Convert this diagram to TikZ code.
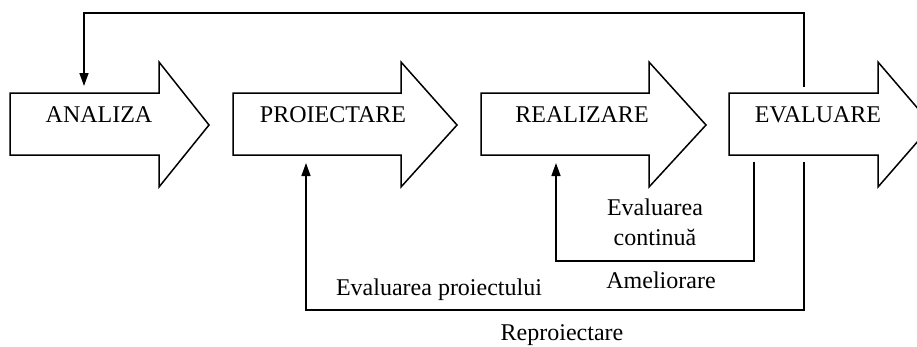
\documentclass[tikz,border=0pt]{standalone}
\usepackage{fontspec}
\setmainfont{Liberation Serif}
\usetikzlibrary{arrows.meta}

\tikzset{
	stage/.style={draw=black, line width=1.5bp, fill=white, line join=miter},
	txt/.style={inner sep=0pt, anchor=base},
	back/.style={draw=black, line width=1.5bp, -{Triangle[length=13bp, width=9bp]}},
}

\begin{document}
\begin{tikzpicture}[x=1bp, y=-1bp, font=\fontsize{24bp}{30bp}\selectfont]
	\useasboundingbox (0,0) rectangle (917,346);
	\clip (0,0) rectangle (917,346);

	% the four stages
	\draw[stage] (10,93) -- (159,93) -- (159,62) -- (209,125) -- (159,187) -- (159,155) -- (10,155) -- cycle;
	\draw[stage] (233,93) -- (401,93) -- (401,62) -- (457,125) -- (401,187) -- (401,155) -- (233,155) -- cycle;
	\draw[stage] (481,93) -- (649,93) -- (649,62) -- (706,125) -- (649,187) -- (649,155) -- (481,155) -- cycle;
	\draw[stage] (729,93) -- (878,93) -- (878,62) -- (932,125) -- (878,187) -- (878,155) -- (729,155) -- cycle;

	\node[txt] (ana) at (99,122.5) {ANALIZA};
	\node[txt] (pro) at (333,122) {PROIECTARE};
	\node[txt] (rea) at (582,122) {REALIZARE};
	\node[txt] (eva) at (818,122) {EVALUARE};

	% ends of the feedback lines
	\coordinate (evaTop) at (804,87);
	\coordinate (anaTop) at (84,86);
	\coordinate (evaBot) at (804,162);
	\coordinate (evaBot2) at (754,162);
	\coordinate (proBot) at (306,163);
	\coordinate (reaBot) at (556,163);

	\draw[back] (evaTop) -- ++(0,-74) -| (anaTop);
	\draw[back] (evaBot) -- ++(0,148) -| (proBot);
	\draw[back] (evaBot2) -- ++(0,99) -| (reaBot);

	\node[align=center, inner sep=0pt] (cont) at (655,222) {Evaluarea\\continuă};
	\node[txt] (amel) at (661,288) {Ameliorare};
	\node[txt] (evpr) at (439,295) {Evaluarea proiectului};
	\node[txt] (repr) at (562,340) {Reproiectare};
\end{tikzpicture}
\end{document}
